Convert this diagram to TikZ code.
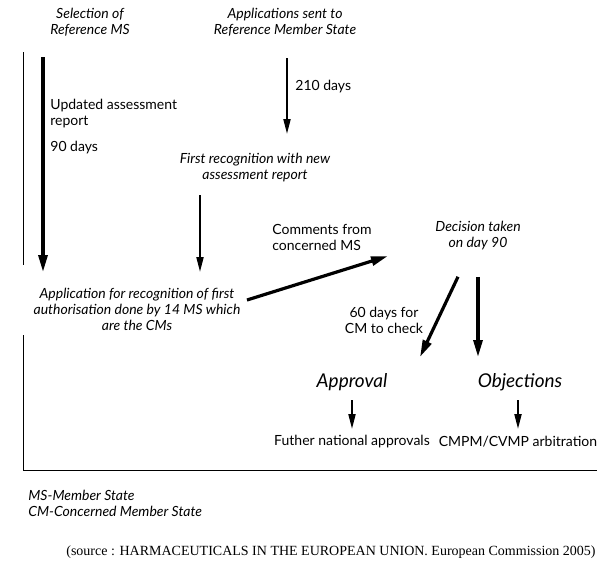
\documentclass[tikz,border=0pt]{standalone}
\usepackage{fontspec}
\setmainfont{Lato}
\newfontfamily\srcfont{Liberation Serif}
\usetikzlibrary{arrows.meta}

\begin{document}
\begin{tikzpicture}[x=0.5pt,y=-0.5pt,
    lbl/.style={font=\fontsize{7}{8}\selectfont\itshape,align=center,inner sep=0pt},
    note/.style={font=\fontsize{7}{8}\selectfont,align=left,inner sep=0pt},
    big/.style={font=\fontsize{9.5}{11}\selectfont\itshape,inner sep=0pt},
    flow/.style={line width=1pt,-{Triangle[length=7.5pt,width=3.5pt]}},
    heavy/.style={line width=1.6pt,-{Triangle[length=8.5pt,width=4.5pt]}}]

    \useasboundingbox (0,0) rectangle (600,569);

    \node[lbl] (selms) at (90,22) {Selection of\\Reference MS};
    \node[lbl] (sent) at (285,22) {Applications sent to\\Reference Member State};
    \node[note,anchor=west] (upd) at (50,114) {Updated assessment\\report};
    \node[note,anchor=west] (d90) at (50,148) {90 days};
    \node[note,anchor=west] (d210) at (295,87) {210 days};
    \node[lbl] (first) at (255,168) {First recognition with new\\assessment report};
    \node[lbl] (appl) at (137,309) {Application for recognition of first\\authorisation done by 14 MS which\\are the CMs};
    \node[note,anchor=west] (comm) at (272,237) {Comments from\\concerned MS};
    \node[lbl] (dec) at (478,236) {Decision taken\\on day 90};
    \node[note,align=center] (chk) at (384,320) {60 days for\\CM to check};
    \node[big] (appr) at (352,382) {Approval};
    \node[big] (obj) at (520,382) {Objections};
    \node[note] (fna) at (352,442) {Futher national approvals};
    \node[note] (arb) at (518,442) {CMPM/CVMP arbitration};
    \node[lbl,align=left,anchor=west] (key) at (28,503) {MS-Member State\\CM-Concerned Member State};
    \node[inner sep=0pt,font=\srcfont\fontsize{7}{8}\selectfont] (src) at (331,552)
        {(source : HARMACEUTICALS IN THE EUROPEAN UNION. European Commission 2005)};

    \coordinate (ms) at (43,57);
    \coordinate (rms) at (287,58);
    \coordinate (fr) at (200,195);
    \coordinate (cm) at (247,300);

    \draw (23,52) -- (23,265);
    \draw (23,335) -- (23,470) -- (597,470);

    \draw[heavy] (ms) -- (ms |- 0,272);
    \draw[flow] (rms) -- (rms |- 0,134);
    \draw[flow] (fr) -- (fr |- 0,272);
    \draw[heavy] (cm) -- (388,256);
    \draw[heavy] ([xshift=-10pt,yshift=-13pt]dec.south) -- (420,357);
    \draw[heavy] ([yshift=-13pt]dec.south) -- (dec.south |- 0,357);
    \draw[flow] (appr |- 0,400) -- (appr |- 0,429);
    \draw[flow] (arb |- 0,400) -- (arb |- 0,429);
\end{tikzpicture}
\end{document}
